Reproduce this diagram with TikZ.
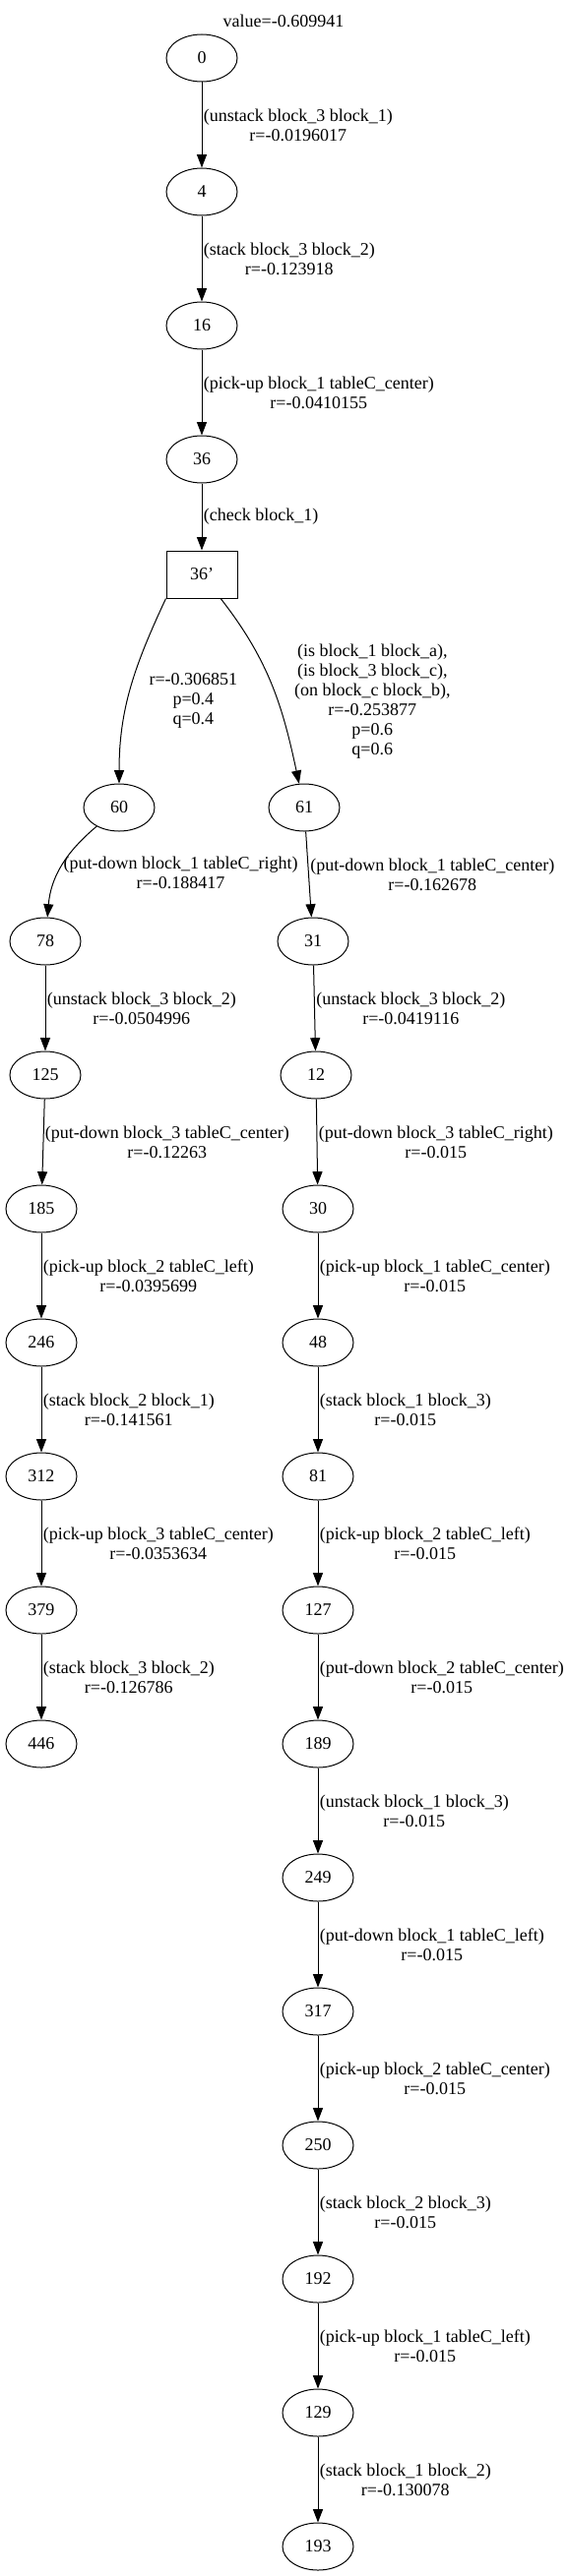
\documentclass[tikz,border=0pt]{standalone}
\usepackage{fontspec}
\setmainfont{Liberation Serif}
\usepackage{tikz}
\usetikzlibrary{positioning}
\usetikzlibrary{shapes.geometric}
\usetikzlibrary{arrows.meta}
\tikzset{%
  actarrow/.style = {-{Triangle[length=10pt,width=7.5pt]},line width=0.75pt},
  el/.style = {ellipse,draw,solid,line width=0.75pt,minimum width=54pt,
        minimum height=36pt,inner sep=0pt},
  r/.style = {rectangle,draw,solid,line width=0.75pt,minimum width=54pt,
        minimum height=36pt},
  act/.style = {right,align=center,inner sep=1pt}
}
\begin{document}
\begin{tikzpicture}[x=1pt,y=1pt,on grid,font=\fontsize{13.5}{15}\selectfont]
    \useasboundingbox (0,0) rectangle (432,-1964.25);
    \node (title) at (216,-15.75) {value=-0.609941};
    \node[el] (n0) at (153.75,-44.25) {0};
    \node[el] (n4) [below=102pt of n0] {4};
    \node[el] (n16) [below=102pt of n4] {16};
    \node[el] (n36) [below=102pt of n16] {36};
    \node[r] (n36p) [below=87.75pt of n36] {36'};
    \node[el] (n60) [below left=177.75pt and 63pt of n36p] {60};
    \node[el] (n61) [below right=177.75pt and 78pt of n36p] {61};
    % left branch
    \node[el] (n78) [below left=102pt and 56.25pt of n60] {78};
    \node[el] (n125) [below=102pt of n78] {125};
    \node[el] (n185) [below left=102pt and 3pt of n125] {185};
    \node[el] (n246) [below=102pt of n185] {246};
    \node[el] (n312) [below=102pt of n246] {312};
    \node[el] (n379) [below=102pt of n312] {379};
    \node[el] (n446) [below=102pt of n379] {446};
    % right branch
    \node[el] (n31) [below right=102pt and 6.75pt of n61] {31};
    \node[el] (n12) [below right=102pt and 2.25pt of n31] {12};
    \node[el] (n30) [below right=102pt and 1.5pt of n12] {30};
    \node[el] (n48) [below=102pt of n30] {48};
    \node[el] (n81) [below=102pt of n48] {81};
    \node[el] (n127) [below=102pt of n81] {127};
    \node[el] (n189) [below=102pt of n127] {189};
    \node[el] (n249) [below=102pt of n189] {249};
    \node[el] (n317) [below=102pt of n249] {317};
    \node[el] (n250) [below=102pt of n317] {250};
    \node[el] (n192) [below=102pt of n250] {192};
    \node[el] (n129) [below=102pt of n192] {129};
    \node[el] (n193) [below=102pt of n129] {193};
    \path[actarrow] (n0) edge node[act] {(unstack block\_3 block\_1)\\r=-0.0196017} (n4)
              (n4) edge node[act] {(stack block\_3 block\_2)\\r=-0.123918} (n16)
              (n16) edge node[act] {(pick-up block\_1 tableC\_center)\\r=-0.0410155} (n36)
              (n36) edge node[act] {(check block\_1)} (n36p)
              (n36p.south west) edge[out=-115,in=90] node[act,xshift=12.75pt,yshift=-9.75pt] {r=-0.306851\\p=0.4\\q=0.4} (n60)
              (n36p) edge[out=-52,in=102] node[act,xshift=15.75pt,yshift=-12pt] {(is block\_1 block\_a),\\(is block\_3 block\_c),\\(on block\_c block\_b),\\r=-0.253877\\p=0.6\\q=0.6} (n61)
              (n60) edge[out=-140,in=85] node[act,yshift=-5pt] {(put-down block\_1 tableC\_right)\\r=-0.188417} (n78)
              (n61) edge node[act] {(put-down block\_1 tableC\_center)\\r=-0.162678} (n31);
    % left branch
    \path[actarrow] (n78) edge node[act] {(unstack block\_3 block\_2)\\r=-0.0504996} (n125)
              (n125) edge node[act] {(put-down block\_3 tableC\_center)\\r=-0.12263} (n185)
              (n185) edge node[act] {(pick-up block\_2 tableC\_left)\\r=-0.0395699} (n246)
              (n246) edge node[act] {(stack block\_2 block\_1)\\r=-0.141561} (n312)
              (n312) edge node[act] {(pick-up block\_3 tableC\_center)\\r=-0.0353634} (n379)
              (n379) edge node[act] {(stack block\_3 block\_2)\\r=-0.126786} (n446);
    % right branch
    \path[actarrow] (n31) edge node[act] {(unstack block\_3 block\_2)\\r=-0.0419116} (n12)
              (n12) edge node[act] {(put-down block\_3 tableC\_right)\\r=-0.015} (n30)
              (n30) edge node[act] {(pick-up block\_1 tableC\_center)\\r=-0.015} (n48)
              (n48) edge node[act] {(stack block\_1 block\_3)\\r=-0.015} (n81)
              (n81) edge node[act] {(pick-up block\_2 tableC\_left)\\r=-0.015} (n127)
              (n127) edge node[act] {(put-down block\_2 tableC\_center)\\r=-0.015} (n189)
              (n189) edge node[act] {(unstack block\_1 block\_3)\\r=-0.015} (n249)
              (n249) edge node[act] {(put-down block\_1 tableC\_left)\\r=-0.015} (n317)
              (n317) edge node[act] {(pick-up block\_2 tableC\_center)\\r=-0.015} (n250)
              (n250) edge node[act] {(stack block\_2 block\_3)\\r=-0.015} (n192)
              (n192) edge node[act] {(pick-up block\_1 tableC\_left)\\r=-0.015} (n129)
              (n129) edge node[act] {(stack block\_1 block\_2)\\r=-0.130078} (n193);
\end{tikzpicture}
\end{document}
